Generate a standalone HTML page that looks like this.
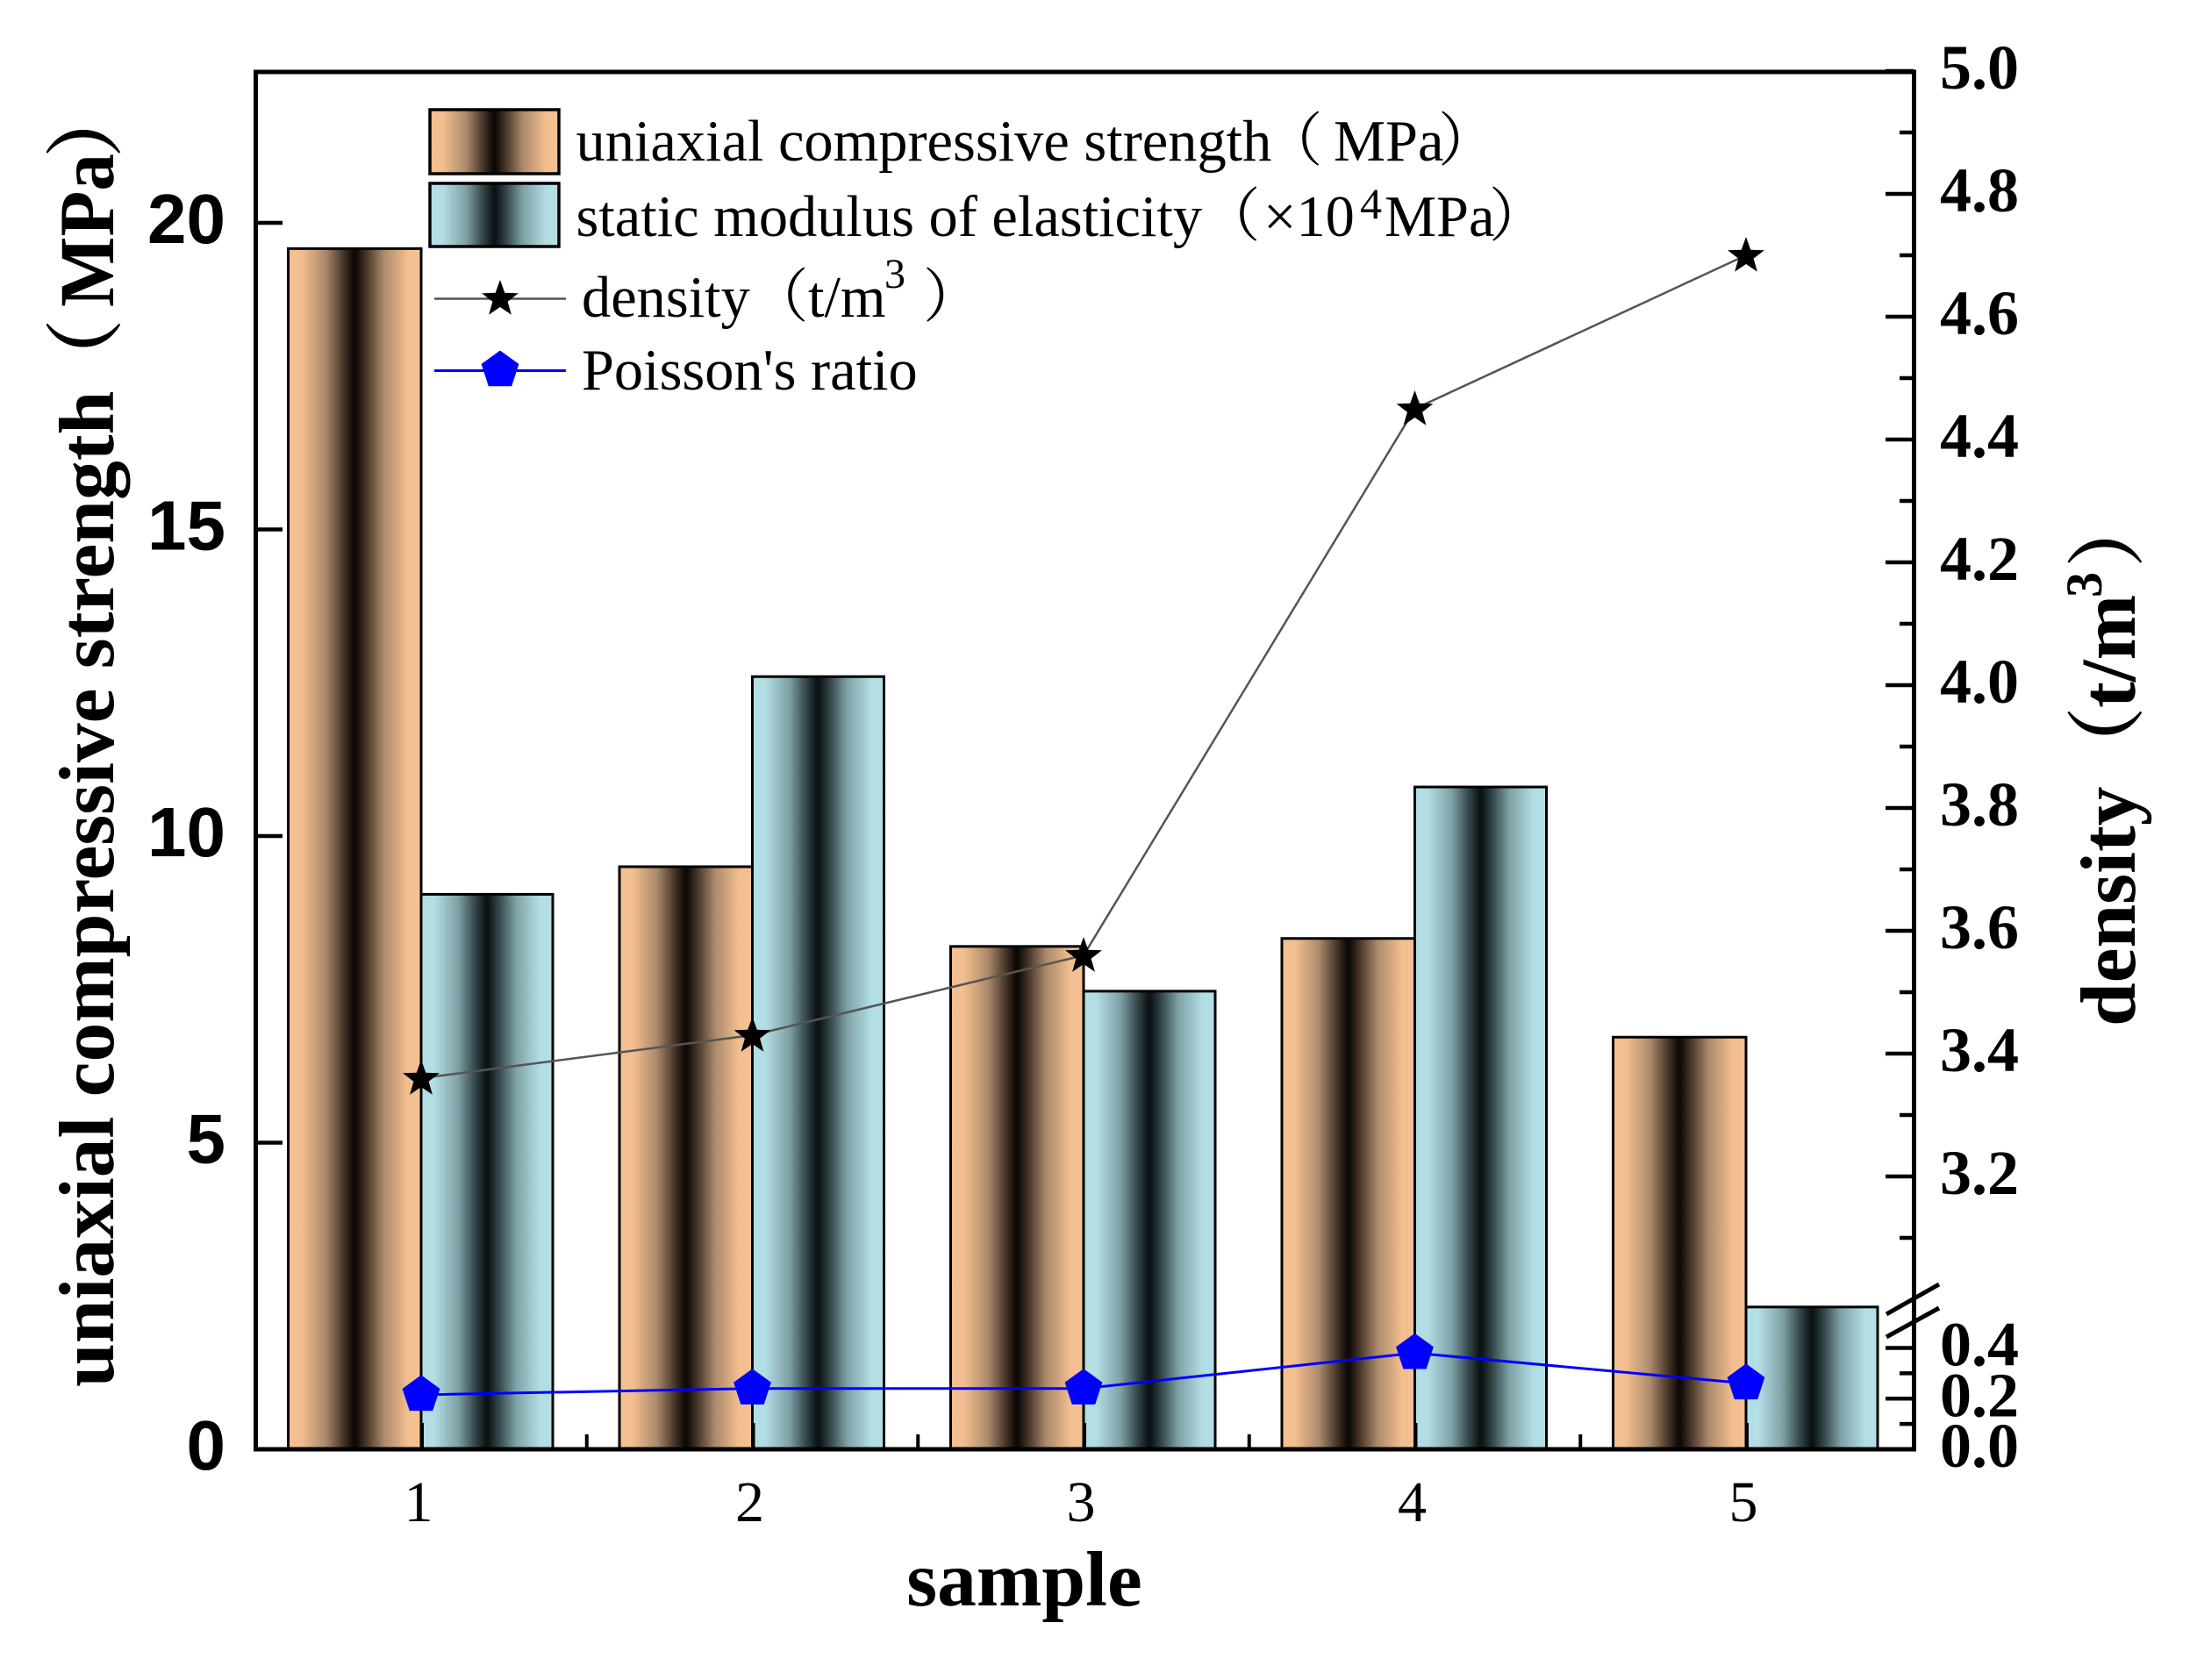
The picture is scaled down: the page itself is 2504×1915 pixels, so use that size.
<!DOCTYPE html>
<html lang="en">
<head>
<meta charset="utf-8">
<title>Rock sample mechanical properties</title>
<style>
html,body{margin:0;padding:0;background:#fff;width:2504px;height:1915px;overflow:hidden}
svg{display:block}
.serif{font-family:"Liberation Serif","Noto Serif CJK SC",serif}
.cjk{font-family:"Noto Serif CJK SC","Liberation Serif",serif}
.sans{font-family:"Liberation Sans",sans-serif}
.legend{font-size:66.4px;fill:#000}
.title{font-size:89.5px;font-weight:bold;fill:#000}
</style>
</head>
<body>
<svg id="chart" xmlns="http://www.w3.org/2000/svg" width="2504" height="1915" viewBox="0 0 2504 1915">
  <defs>
    <linearGradient id="grad-orange" x1="0" x2="1" y1="0" y2="0">
      <stop offset="0" stop-color="#f5c192"/><stop offset="0.1" stop-color="#f3be8f"/>
      <stop offset="0.28" stop-color="#ab8a6b"/><stop offset="0.41" stop-color="#4a382b"/>
      <stop offset="0.49" stop-color="#0f0a07"/><stop offset="0.51" stop-color="#0f0a07"/>
      <stop offset="0.59" stop-color="#4a382b"/><stop offset="0.72" stop-color="#ab8a6b"/>
      <stop offset="0.9" stop-color="#f3be8f"/><stop offset="1" stop-color="#f5c192"/>
    </linearGradient>
    <linearGradient id="grad-blue" x1="0" x2="1" y1="0" y2="0">
      <stop offset="0" stop-color="#b3e0e6"/><stop offset="0.1" stop-color="#b1dde3"/>
      <stop offset="0.28" stop-color="#7fa1a6"/><stop offset="0.41" stop-color="#334649"/>
      <stop offset="0.49" stop-color="#0d1416"/><stop offset="0.51" stop-color="#0d1416"/>
      <stop offset="0.59" stop-color="#334649"/><stop offset="0.72" stop-color="#7fa1a6"/>
      <stop offset="0.9" stop-color="#b1dde3"/><stop offset="1" stop-color="#b3e0e6"/>
    </linearGradient>
  </defs>

  <rect x="0" y="0" width="2504" height="1915" fill="#fff"/>
  <g id="bars"></g>
  <g id="axes"></g>
  <g id="lines"></g>

  <g>
    <g>
      <rect x="490" y="125" width="147" height="73" fill="url(#grad-orange)" stroke="#000" stroke-width="3.5"/>
      <text class="serif legend" y="183"><tspan x="656.5">uniaxial compressive strength</tspan><tspan class="cjk" x="1441">（</tspan><tspan x="1520">MPa</tspan><tspan class="cjk" x="1639">）</tspan></text>
    </g>
    <g>
      <rect x="490" y="209" width="147" height="72" fill="url(#grad-blue)" stroke="#000" stroke-width="3.5"/>
      <text class="serif legend" y="269"><tspan x="656.5">static modulus of elasticity</tspan><tspan class="cjk" x="1370">（</tspan><tspan x="1440">×10</tspan><tspan x="1550" y="249" style="font-size:50px">4</tspan><tspan x="1578" y="269">MPa</tspan><tspan class="cjk" x="1697">）</tspan></text>
    </g>
    <g>
      <line x1="495" x2="645" y1="340.5" y2="340.5" stroke="#555" stroke-width="2.5"/>
      <polygon id="legend-star" fill="#000"/>
      <text class="serif legend" y="361"><tspan x="663">density</tspan><tspan class="cjk" x="855">（</tspan><tspan x="921">t/m</tspan><tspan x="1008" y="328" style="font-size:48px">3</tspan><tspan class="cjk" x="1052" y="361">）</tspan></text>
    </g>
    <g>
      <line x1="495" x2="645" y1="422.5" y2="422.5" stroke="#0000ff" stroke-width="3"/>
      <polygon id="legend-pentagon" fill="#0000ff"/>
      <text class="serif legend" x="663" y="444">Poisson's ratio</text>
    </g>
  </g>

  <text class="serif title" transform="translate(129,1581) rotate(-90)"><tspan x="0">uniaxial compressive strength</tspan><tspan class="cjk" x="1128">（</tspan><tspan x="1231" textLength="175" lengthAdjust="spacingAndGlyphs">MPa</tspan><tspan class="cjk" x="1401">）</tspan></text>
  <text class="serif title" transform="translate(2433,1170) rotate(-90)"><tspan x="0">density</tspan><tspan class="cjk" x="275">（</tspan><tspan x="363">t/m</tspan><tspan x="489" dy="-38" style="font-size:58px">3</tspan><tspan class="cjk" x="523" dy="38">）</tspan></text>
  <text class="serif title" x="1167.5" y="1830" text-anchor="middle">sample</text>
</svg>

<script>
// ---- chart data ----
const categories = [1, 2, 3, 4, 5];
const strengthValues = [19.58, 9.5, 8.2, 8.33, 6.72];
const modulusValues = [9.05, 12.6, 7.47, 10.8, 2.32];
const densityValues = [3.36, 3.43, 3.56, 4.45, 4.70];
const poissonValues = [0.215, 0.24, 0.24, 0.38, 0.26];
const leftTickLabels = [0, 5, 10, 15, 20];
const rightUpperTickLabels = ['3.2', '3.4', '3.6', '3.8', '4.0', '4.2', '4.4', '4.6', '4.8', '5.0'];
const rightUpperMinorTicks = [3.1, 3.3, 3.5, 3.7, 3.9, 4.1, 4.3, 4.5, 4.7, 4.9];
const rightLowerTickLabels = ['0.0', '0.2', '0.4'];
const rightLowerMinorTicks = [0.1, 0.3];

// ---- axis functions ----
const plot = {left: 291.5, right: 2181.5, top: 82, bottom: 1652};
function xScale(c) { return 480 + (c - 1) * 377.5; }
function yLeft(v) { return plot.bottom - v * 69.9; }
function yRight(v) {
  return v >= 3 ? 81 + (5 - v) * 700 : plot.bottom - v * 288.75;
}

const NS = 'http://www.w3.org/2000/svg';
function make(tag, attrs, parent, text) {
  const node = document.createElementNS(NS, tag);
  for (const k in attrs) node.setAttribute(k, attrs[k]);
  if (text !== undefined) node.textContent = text;
  parent.appendChild(node);
  return node;
}
function starPoints(cx, cy, R, r) {
  const pts = [];
  for (let i = 0; i < 10; i++) {
    const rad = i % 2 ? r : R;
    const a = -Math.PI / 2 + i * Math.PI / 5;
    pts.push((cx + rad * Math.cos(a)).toFixed(1) + ',' + (cy + rad * Math.sin(a)).toFixed(1));
  }
  return pts.join(' ');
}
function pentagonPoints(cx, cy, R) {
  const pts = [];
  for (let i = 0; i < 5; i++) {
    const a = -Math.PI / 2 + i * 2 * Math.PI / 5;
    pts.push((cx + R * Math.cos(a)).toFixed(1) + ',' + (cy + R * Math.sin(a)).toFixed(1));
  }
  return pts.join(' ');
}

const barsG = document.getElementById('bars');
const axesG = document.getElementById('axes');
const linesG = document.getElementById('lines');
const strengthBarW = 151.5;
const modulusBarW = 150;

// ---- bars ----
categories.forEach(function (c, i) {
  const x = xScale(c);
  const b1 = make('rect', {x: x - strengthBarW, y: yLeft(strengthValues[i]), width: strengthBarW, height: plot.bottom - yLeft(strengthValues[i]), fill: 'url(#grad-orange)', stroke: '#000', 'stroke-width': 3}, barsG);
  
  
  const b2 = make('rect', {x: x, y: yLeft(modulusValues[i]), width: modulusBarW, height: plot.bottom - yLeft(modulusValues[i]), fill: 'url(#grad-blue)', stroke: '#000', 'stroke-width': 3}, barsG);
  
  
});

// ---- frame ----
const frame = make('rect', {x: plot.left, y: plot.top, width: plot.right - plot.left, height: plot.bottom - plot.top, fill: 'none', stroke: '#000', 'stroke-width': 5}, axesG);



// ---- left axis ----
leftTickLabels.forEach(function (v) {
  const t = make('line', {x1: plot.left, x2: 322, y1: yLeft(v), y2: yLeft(v), stroke: '#000', 'stroke-width': 4.5}, axesG);
  
  
  const l = make('text', {x: 257, y: yLeft(v) + 23, 'text-anchor': 'end', class: 'sans', 'font-size': 80, 'font-weight': 'bold', fill: '#000'}, axesG, String(v));
  
  
});

// ---- x axis ----
categories.forEach(function (c) {
  const t = make('line', {x1: xScale(c) + 1, x2: xScale(c) + 1, y1: plot.bottom, y2: 1622, stroke: '#000', 'stroke-width': 4}, axesG);
  
  
  const l = make('text', {x: xScale(c) - 3, y: 1734, 'text-anchor': 'middle', class: 'serif', 'font-size': 66, fill: '#000'}, axesG, String(c));
  
  
});
categories.slice(0, -1).forEach(function (c) {
  const t = make('line', {x1: xScale(c + 0.5), x2: xScale(c + 0.5), y1: plot.bottom, y2: 1635, stroke: '#000', 'stroke-width': 4}, axesG);
  
  
});

// ---- right axis ----
rightUpperTickLabels.concat(rightLowerTickLabels).forEach(function (s) {
  const y = yRight(parseFloat(s));
  const t = make('line', {x1: 2149, x2: plot.right, y1: y, y2: y, stroke: '#000', 'stroke-width': 4.5}, axesG);
  
  
  const l = make('text', {x: 2211, y: y + 20, class: 'serif', 'font-size': 72, 'font-weight': 'bold', fill: '#000'}, axesG, s);
  
  
});
rightUpperMinorTicks.concat(rightLowerMinorTicks).forEach(function (v) {
  const y = yRight(v);
  const t = make('line', {x1: 2165, x2: plot.right, y1: y, y2: y, stroke: '#000', 'stroke-width': 4.5}, axesG);
  
  
});

// axis-break marks (decorative, sit on the right spine between the two scales)
const breakMarkA = make('line', {x1: 2150, y1: 1498, x2: 2210, y2: 1464, stroke: '#000', 'stroke-width': 5}, axesG);


const breakMarkB = make('line', {x1: 2150, y1: 1524, x2: 2210, y2: 1491, stroke: '#000', 'stroke-width': 5}, axesG);



// ---- density line + markers ----
const densityLine = make('polyline', {points: categories.map(function (c, i) { return xScale(c) + ',' + yRight(densityValues[i]); }).join(' '), fill: 'none', stroke: '#555', 'stroke-width': 2.5}, linesG);


categories.forEach(function (c, i) {
  const m = make('polygon', {points: starPoints(xScale(c), yRight(densityValues[i]) + 1, 22, 9), fill: '#000'}, linesG);
  
  
});

// ---- Poisson line + markers ----
const poissonLine = make('polyline', {points: categories.map(function (c, i) { return xScale(c) + ',' + yRight(poissonValues[i]); }).join(' '), fill: 'none', stroke: '#0000ff', 'stroke-width': 3}, linesG);


categories.forEach(function (c, i) {
  const m = make('polygon', {points: pentagonPoints(xScale(c), yRight(poissonValues[i]), 22.5), fill: '#0000ff'}, linesG);
  
  
});

// ---- legend markers ----
document.getElementById('legend-star').setAttribute('points', starPoints(570, 341, 22, 9));
document.getElementById('legend-pentagon').setAttribute('points', pentagonPoints(570, 422, 22.5));
</script>
</body>
</html>
